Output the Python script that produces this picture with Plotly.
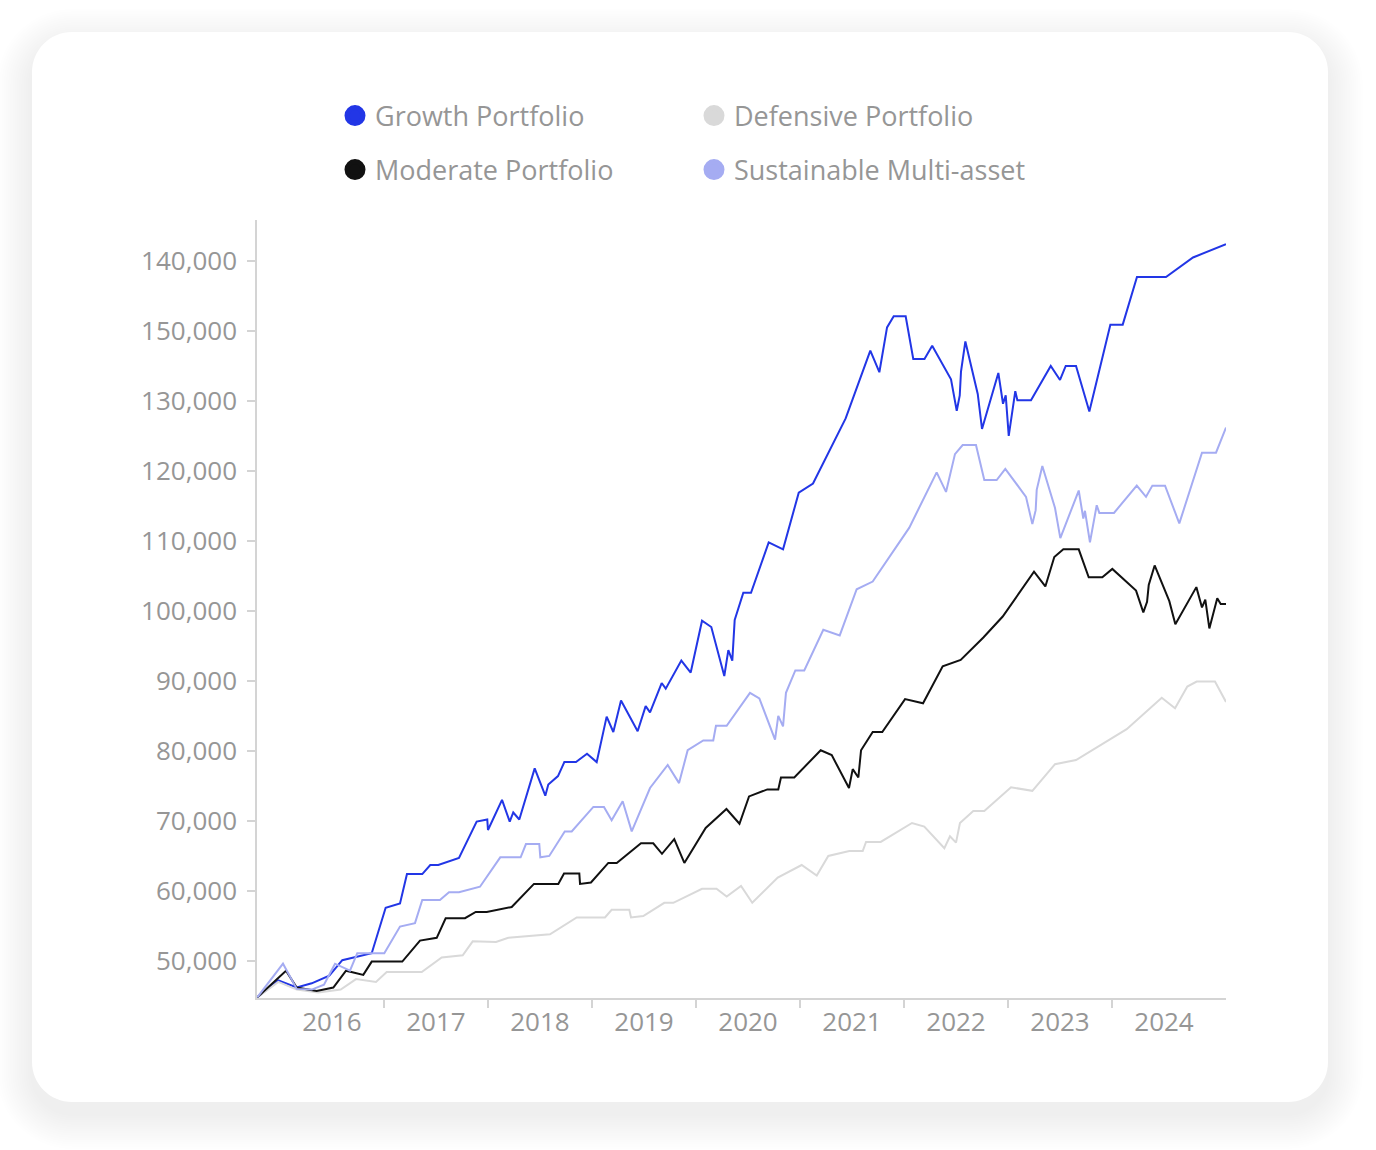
import plotly.graph_objects as go

# ---------------- data (decimal years, portfolio value) ----------------
growth_year = [2015.282, 2015.484, 2015.661, 2015.805, 2015.974, 2016.099, 2016.382, 2016.516, 2016.654, 2016.721,
               2016.868, 2016.945, 2017.022, 2017.221, 2017.391, 2017.493, 2017.500, 2017.635, 2017.709, 2017.743,
               2017.801, 2017.949, 2018.051, 2018.080, 2018.173, 2018.234, 2018.346, 2018.452, 2018.545, 2018.641,
               2018.705, 2018.779, 2018.939, 2019.016, 2019.058, 2019.170, 2019.209, 2019.359, 2019.449, 2019.558,
               2019.647, 2019.772, 2019.811, 2019.849, 2019.872, 2019.955, 2020.029, 2020.199, 2020.337, 2020.488,
               2020.625, 2020.939, 2021.176, 2021.263, 2021.337, 2021.401, 2021.516, 2021.589, 2021.697, 2021.771,
               2021.952, 2022.007, 2022.036, 2022.048, 2022.090, 2022.209, 2022.250, 2022.407, 2022.452, 2022.478,
               2022.507, 2022.570, 2022.590, 2022.721, 2022.911, 2023.000, 2023.055, 2023.154, 2023.282, 2023.484,
               2023.603, 2023.740, 2024.019, 2024.279, 2024.596]
growth_value = [44800, 47200, 46200, 46800, 47900, 50100, 51100, 57600, 58200, 62400,
                62400, 63700, 63700, 64700, 69900, 70200, 68700, 73000, 69900, 71200,
                70200, 77500, 73600, 75200, 76400, 78400, 78400, 79600, 78400, 84900,
                82700, 87200, 82800, 86400, 85500, 89700, 88900, 92900, 91200, 98600,
                97700, 90700, 94400, 92900, 98700, 102600, 102600, 109800, 108800, 116900,
                118200, 127500, 137200, 134100, 140500, 142100, 142100, 136000, 136000, 137900,
                133100, 128600, 130800, 134200, 138500, 131000, 126000, 134000, 129600, 130800,
                125000, 131400, 130100, 130100, 135000, 133000, 135000, 135000, 128500, 140900,
                140900, 147700, 147700, 150500, 152400]

defensive_year = [2015.282, 2015.484, 2015.661, 2015.868, 2016.084, 2016.231, 2016.423, 2016.526, 2016.863, 2017.055,
                  2017.257, 2017.353, 2017.577, 2017.695, 2018.096, 2018.353, 2018.625, 2018.689, 2018.859, 2018.875,
                  2018.993, 2019.195, 2019.282, 2019.558, 2019.697, 2019.795, 2019.933, 2020.041, 2020.286, 2020.516,
                  2020.661, 2020.772, 2020.974, 2021.103, 2021.135, 2021.276, 2021.577, 2021.695, 2021.888, 2021.942,
                  2022.000, 2022.038, 2022.166, 2022.272, 2022.529, 2022.734, 2022.952, 2023.154, 2023.641, 2023.978,
                  2024.106, 2024.224, 2024.314, 2024.490, 2024.596]
defensive_value = [44800, 47000, 45900, 45500, 45900, 47400, 47000, 48400, 48400, 50500,
                   50800, 52800, 52700, 53300, 53800, 56200, 56200, 57300, 57300, 56200,
                   56400, 58300, 58300, 60300, 60300, 59200, 60700, 58300, 61900, 63700,
                   62200, 65000, 65700, 65700, 67000, 67000, 69700, 69200, 66100, 67800,
                   66900, 69700, 71400, 71400, 74800, 74300, 78100, 78700, 83100, 87600,
                   86100, 89200, 89900, 89900, 87000]

moderate_year = [2015.282, 2015.468, 2015.558, 2015.661, 2015.853, 2016.013, 2016.135, 2016.301, 2016.382, 2016.676,
                 2016.846, 2017.007, 2017.093, 2017.279, 2017.382, 2017.488, 2017.728, 2017.942, 2018.176, 2018.231,
                 2018.378, 2018.385, 2018.490, 2018.657, 2018.738, 2018.971, 2019.089, 2019.173, 2019.291, 2019.388,
                 2019.593, 2019.793, 2019.918, 2020.010, 2020.186, 2020.291, 2020.317, 2020.445, 2020.699, 2020.805,
                 2020.971, 2021.007, 2021.061, 2021.087, 2021.199, 2021.291, 2021.510, 2021.683, 2021.872, 2022.045,
                 2022.263, 2022.449, 2022.750, 2022.859, 2022.945, 2023.032, 2023.180, 2023.276, 2023.407, 2023.503,
                 2023.731, 2023.801, 2023.837, 2023.853, 2023.910, 2024.051, 2024.109, 2024.311, 2024.365, 2024.397,
                 2024.436, 2024.512, 2024.545, 2024.596]
moderate_value = [44800, 47300, 48600, 46200, 45700, 46200, 48600, 48000, 49900, 49900,
                  52900, 53300, 56100, 56100, 57000, 57000, 57700, 61000, 61000, 62500,
                  62500, 61000, 61200, 64000, 64000, 66800, 66800, 65300, 67400, 64000,
                  69000, 71700, 69600, 73500, 74500, 74500, 76200, 76200, 80100, 79400,
                  74700, 77400, 76200, 80100, 82700, 82700, 87400, 86800, 92100, 93000,
                  96200, 99200, 105600, 103500, 107700, 108800, 108800, 104800, 104800, 106000,
                  102900, 99800, 101300, 103700, 106500, 101400, 98100, 103400, 100500, 101600,
                  97500, 101800, 101000, 101000]

sustainable_year = [2015.282, 2015.529, 2015.661, 2015.805, 2015.923, 2016.029, 2016.173, 2016.243, 2016.503, 2016.654,
                    2016.798, 2016.868, 2017.038, 2017.125, 2017.221, 2017.423, 2017.618, 2017.814, 2017.865, 2017.993,
                    2018.003, 2018.089, 2018.238, 2018.305, 2018.513, 2018.615, 2018.689, 2018.795, 2018.882, 2019.058,
                    2019.228, 2019.337, 2019.420, 2019.570, 2019.666, 2019.692, 2019.795, 2020.019, 2020.109, 2020.260,
                    2020.291, 2020.337, 2020.365, 2020.455, 2020.541, 2020.724, 2020.882, 2021.045, 2021.199, 2021.551,
                    2021.814, 2021.904, 2021.990, 2022.064, 2022.192, 2022.272, 2022.391, 2022.474, 2022.673, 2022.734,
                    2022.766, 2022.776, 2022.830, 2022.952, 2023.003, 2023.180, 2023.224, 2023.240, 2023.288, 2023.353,
                    2023.378, 2023.519, 2023.738, 2023.827, 2023.888, 2024.010, 2024.147, 2024.365, 2024.500, 2024.596]
sustainable_value = [44800, 49600, 46000, 45900, 46600, 49600, 48600, 51100, 51100, 54900,
                     55400, 58700, 58700, 59800, 59800, 60600, 64800, 64800, 66700, 66700,
                     64800, 65000, 68500, 68500, 72000, 72000, 70100, 72800, 68500, 74700,
                     78000, 75400, 80100, 81500, 81500, 83600, 83600, 88300, 87500, 81600,
                     85000, 83500, 88300, 91500, 91500, 97300, 96500, 103100, 104200, 111900,
                     119800, 117000, 122400, 123700, 123700, 118700, 118700, 120300, 116300, 112400,
                     114400, 117300, 120700, 114700, 110400, 117200, 113200, 114300, 109800, 115100,
                     114000, 114000, 117900, 116300, 117900, 117900, 112500, 122600, 122600, 126200]

series_names = ["Growth Portfolio", "Defensive Portfolio", "Moderate Portfolio", "Sustainable Multi-asset"]
x_tick_years = [2016, 2017, 2018, 2019, 2020, 2021, 2022, 2023, 2024]
x_tick_labels = ["2016", "2017", "2018", "2019", "2020", "2021", "2022", "2023", "2024"]
y_tick_values = [50000, 60000, 70000, 80000, 90000, 100000, 110000, 120000, 130000, 140000, 150000]
y_tick_labels = ["50,000", "60,000", "70,000", "80,000", "90,000", "100,000", "110,000",
                 "120,000", "130,000", "150,000", "140,000"]

# ---------------- styling ----------------
colors = ["#2236e6", "#d9d9d9", "#111111", "#a5acf2"]
FONT = "Open Sans"
GRAY_TEXT = "#969696"
AXIS = "#d4d4d4"

W, H = 1376, 1150
L, R, T, B = 257, 150, 220, 152
PW, PH = W - L - R, H - T - B


def to_paper(px, py):
    return (px - L) / PW, (H - B - py) / PH


def rounded_rect_path(x0, y0, x1, y1, r):
    k = 0.5523 * r

    def P(x, y):
        a, b = to_paper(x, y)
        return f"{a:.5f},{b:.5f}"

    d = f"M {P(x0 + r, y0)} L {P(x1 - r, y0)} "
    d += f"C {P(x1 - r + k, y0)} {P(x1, y0 + r - k)} {P(x1, y0 + r)} "
    d += f"L {P(x1, y1 - r)} "
    d += f"C {P(x1, y1 - r + k)} {P(x1 - r + k, y1)} {P(x1 - r, y1)} "
    d += f"L {P(x0 + r, y1)} "
    d += f"C {P(x0 + r - k, y1)} {P(x0, y1 - r + k)} {P(x0, y1 - r)} "
    d += f"L {P(x0, y0 + r)} "
    d += f"C {P(x0, y0 + r - k)} {P(x0 + r - k, y0)} {P(x0 + r, y0)} Z"
    return d


shapes = []
# soft shadow
N = 16
for i in range(N, 0, -1):
    e = i * 2.2
    shapes.append(dict(type="path", xref="paper", yref="paper", layer="below",
                       path=rounded_rect_path(32 - e, 32 - e + 12, 1328 + e, 1102 + e + 12, 40 + e),
                       fillcolor="rgba(0,0,0,0.003)", line=dict(width=0)))
# card
shapes.append(dict(type="path", xref="paper", yref="paper", layer="below",
                   path=rounded_rect_path(32, 32, 1328, 1102, 40),
                   fillcolor="#ffffff", line=dict(width=0)))

fig = go.Figure()
data = [(growth_year, growth_value), (defensive_year, defensive_value),
        (moderate_year, moderate_value), (sustainable_year, sustainable_value)]
for (xs, ys), name, c in zip(data, series_names, colors):
    fig.add_trace(go.Scatter(x=xs, y=ys, mode="lines", name=name, showlegend=False,
                             line=dict(color=c, width=2), hoverinfo="skip"))

legend_ids = ["legend", "legend", "legend2", "legend2"]
for name, c, lg in zip(series_names, colors, legend_ids):
    fig.add_trace(go.Scatter(x=[None], y=[None], mode="markers", name=name, legend=lg,
                             marker=dict(color=c, size=16, line=dict(color=c, width=5))))

legend_common = dict(orientation="h", xanchor="left", yanchor="middle", x=to_paper(335, 0)[0],
                     font=dict(family=FONT, size=27, color=GRAY_TEXT),
                     entrywidth=314, entrywidthmode="pixels", bgcolor="rgba(0,0,0,0)",
                     itemclick=False, itemdoubleclick=False)

fig.update_layout(
    width=W, height=H,
    margin=dict(l=L, r=R, t=T, b=B, pad=0),
    paper_bgcolor="#ffffff", plot_bgcolor="rgba(0,0,0,0)",
    font=dict(family=FONT, color=GRAY_TEXT),
    shapes=shapes,
    legend=dict(legend_common, y=to_paper(0, 116)[1]),
    legend2=dict(legend_common, y=to_paper(0, 170)[1]),
    xaxis=dict(range=[2015.279, 2024.596], tickmode="array", tickvals=x_tick_years, ticktext=x_tick_labels,
               ticks="outside", ticklen=0, showline=True, linecolor=AXIS, linewidth=2,
               showgrid=False, zeroline=False, tickfont=dict(family=FONT, size=26, color=GRAY_TEXT),
               ticklabelstandoff=0,
               minor=dict(tickmode="array", tickvals=[y + 0.5 for y in x_tick_years[:-1]],
                          ticks="outside", ticklen=8, tickcolor=AXIS, tickwidth=1.5, showgrid=False)),
    yaxis=dict(range=[44700, 155850], tickmode="array", tickvals=y_tick_values, ticktext=y_tick_labels,
               ticks="outside", ticklen=8, tickcolor=AXIS, tickwidth=1.5,
               showline=True, linecolor=AXIS, linewidth=1.5, showgrid=False, zeroline=False,
               tickfont=dict(family=FONT, size=26, color=GRAY_TEXT), ticklabelstandoff=5),
)

fig.write_html("out.html", config={"displayModeBar": False},
               post_script="document.body.style.margin='0';document.body.style.overflow='hidden';")
